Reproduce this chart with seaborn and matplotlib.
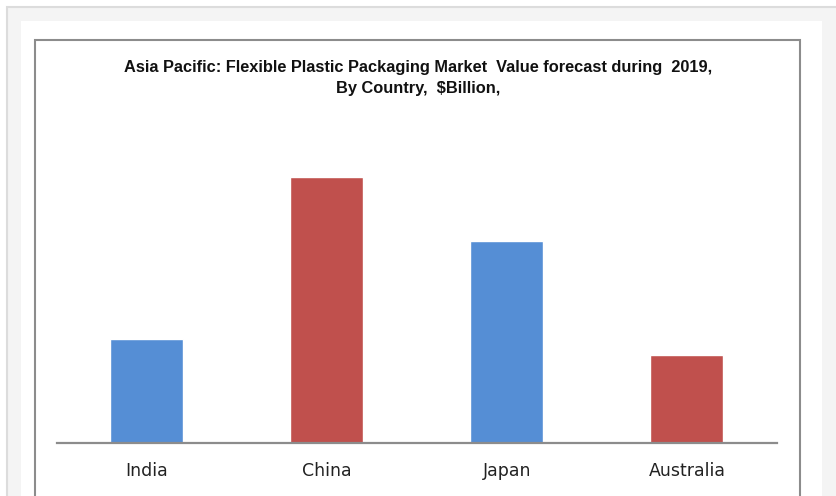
import matplotlib
matplotlib.use("Agg")
import matplotlib.pyplot as plt
import seaborn as sns
import pandas as pd
from matplotlib.patches import Rectangle

countries = ["India", "China", "Japan", "Australia"]
values = [3.9, 10.0, 7.6, 3.3]
bar_colors = ["#558ED5", "#C0504D", "#558ED5", "#C0504D"]
title = "Asia Pacific: Flexible Plastic Packaging Market  Value forecast during  2019,\nBy Country,  $Billion,"

sns.set_theme(style="white")
plt.rcParams['font.family'] = ['DejaVu Sans']

W, H = 836, 496
fig = plt.figure(figsize=(W / 100, H / 100), dpi=100)
fig.patch.set_facecolor("white")

def rect(x0, y0, x1, y1, **kw):
    # pixel coords (top-left origin) -> figure fraction
    fig.patches.append(Rectangle((x0 / W, 1 - y1 / H), (x1 - x0) / W, (y1 - y0) / H,
                                 transform=fig.transFigure, **kw))

rect(7, 7, 845, 510, facecolor="#f4f4f4", edgecolor="#dcdcdc", linewidth=1.5, zorder=0)
rect(21, 21, 822, 510, facecolor="white", edgecolor="none", zorder=0.5)
rect(34.5, 39.5, 800, 520, facecolor="white", edgecolor="#8c8c8c", linewidth=1.5, zorder=1)

# axes in pixel coords
ax_left, ax_right, ax_top, ax_bottom = 56.7, 777, 150, 443
ax = fig.add_axes([ax_left / W, 1 - ax_bottom / H, (ax_right - ax_left) / W, (ax_bottom - ax_top) / H])
ax.set_facecolor("none")
ax.set_zorder(2)

df = pd.DataFrame({"country": countries, "value": values})
sns.barplot(data=df, x="country", y="value", hue="country", palette=bar_colors,
            width=0.405, legend=False, ax=ax, saturation=1)

ax.set_xlim(-0.5, 3.5)
ax.set_ylim(0, 10.0 * (ax_bottom - ax_top) / 266)
for s in ["top", "right", "left"]:
    ax.spines[s].set_visible(False)
ax.spines["bottom"].set_color("#8c8c8c")
ax.spines["bottom"].set_linewidth(1.6)
ax.set_yticks([])
ax.set_xlabel("")
ax.set_ylabel("")
ax.tick_params(axis="x", length=0, pad=14, labelsize=12.5, labelcolor="#222222")
for lbl in ax.get_xticklabels():
    lbl.set_fontfamily(["DejaVu Sans"])

fig.text(418 / W, 1 - 78 / H, title, ha="center", va="center", fontsize=11.8,
         fontweight="bold", family=["Liberation Sans Narrow", "Liberation Sans", "DejaVu Sans"],
         linespacing=1.45, color="#111111", zorder=3)

fig.savefig("out.png", dpi=100)
